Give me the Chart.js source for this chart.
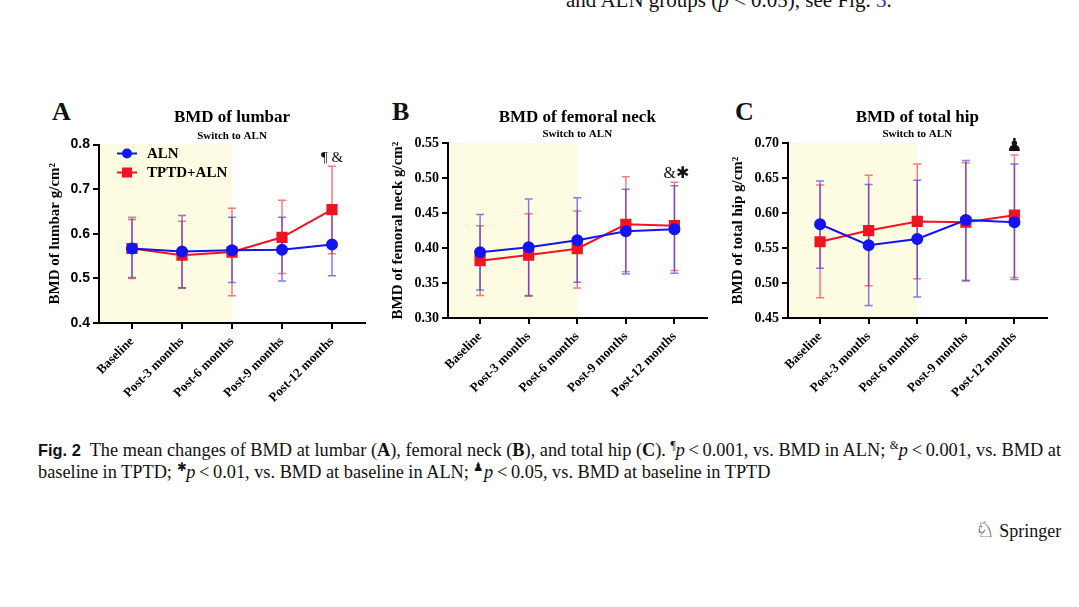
<!DOCTYPE html>
<html lang="en">
<head>
<meta charset="UTF-8" />
<title>Mean changes of BMD</title>
<script src="https://cdn.jsdelivr.net/npm/chart.js"></script>
<style>
  body { margin: 0; width: 1079px; height: 607px; background: #fff; position: relative; overflow: hidden;
         font-family: "Liberation Serif", "Times New Roman", serif; color: #111; }
  canvas.panel { position: absolute; }
  .letter { position: absolute; font: bold 26px/26px "Liberation Serif", serif; top: 99px; }
  #topline { position: absolute; left: 566px; top: -10px; font-size: 21px; line-height: 20px; white-space: nowrap; }
  .cap { position: absolute; left: 38px; font-size: 19px; line-height: 20px; white-space: nowrap; transform-origin: 0 0; }
  .fig { font-family: "Liberation Sans Narrow", "Liberation Sans", sans-serif; font-weight: bold; font-size: 17px; }
  sup { font-size: 12px; line-height: 0; }
  #springer { position: absolute; left: 975px; top: 519px; font-size: 18px; line-height: 22px; white-space: nowrap; }
  #springer .knight { font-family: "DejaVu Sans"; font-size: 22px; }
</style>
</head>
<body>
  <div id="topline">and ALN groups (<i>p</i> &lt; 0.05), see Fig. <span style="color:#2f2fc8">3</span>.</div>

  <div class="letter" style="left:52px">A</div>
  <div class="letter" style="left:392px">B</div>
  <div class="letter" style="left:735px">C</div>

  <canvas id="chartA" class="panel" width="345" height="330" style="left:30px;top:95px"></canvas>
  <canvas id="chartB" class="panel" width="345" height="330" style="left:370px;top:95px"></canvas>
  <canvas id="chartC" class="panel" width="345" height="330" style="left:710px;top:95px"></canvas>

  <div id="cap1" class="cap" style="top:440px"><span class="fig">Fig. 2</span>&nbsp; The mean changes of BMD at lumbar (<b>A</b>), femoral neck (<b>B</b>), and total hip (<b>C</b>). <sup>¶</sup><i>p</i>&thinsp;&lt;&thinsp;0.001, vs. BMD in ALN; <sup>&amp;</sup><i>p</i>&thinsp;&lt;&thinsp;0.001, vs. BMD at</div>
  <div id="cap2" class="cap" style="top:462px">baseline in TPTD; <sup>✱</sup><i>p</i>&thinsp;&lt;&thinsp;0.01, vs. BMD at baseline in ALN; <sup>♟</sup><i>p</i>&thinsp;&lt;&thinsp;0.05, vs. BMD at baseline in TPTD</div>

  <div id="springer"><span class="knight">♘</span> Springer</div>

<script>
const CATEGORIES = ['Baseline', 'Post-3 months', 'Post-6 months', 'Post-9 months', 'Post-12 months'];

// A - lumbar
const LUMBAR_TICKS = [0.4, 0.5, 0.6, 0.7, 0.8];
const LUMBAR_ALN = [0.567, 0.560, 0.563, 0.564, 0.576];
const LUMBAR_ALN_LO = [0.502, 0.479, 0.491, 0.494, 0.506];
const LUMBAR_ALN_HI = [0.632, 0.641, 0.637, 0.637, 0.647];
const LUMBAR_TPTD = [0.567, 0.552, 0.559, 0.592, 0.654];
const LUMBAR_TPTD_LO = [0.500, 0.478, 0.461, 0.511, 0.555];
const LUMBAR_TPTD_HI = [0.637, 0.628, 0.657, 0.675, 0.751];

// B - femoral neck
const NECK_TICKS = [0.30, 0.35, 0.40, 0.45, 0.50, 0.55];
const NECK_ALN = [0.394, 0.401, 0.411, 0.424, 0.427];
const NECK_ALN_LO = [0.340, 0.332, 0.351, 0.363, 0.364];
const NECK_ALN_HI = [0.448, 0.470, 0.472, 0.484, 0.489];
const NECK_TPTD = [0.382, 0.390, 0.399, 0.434, 0.432];
const NECK_TPTD_LO = [0.332, 0.331, 0.343, 0.366, 0.368];
const NECK_TPTD_HI = [0.432, 0.449, 0.453, 0.502, 0.494];

// C - total hip
const HIP_TICKS = [0.45, 0.50, 0.55, 0.60, 0.65, 0.70];
const HIP_ALN = [0.584, 0.554, 0.563, 0.590, 0.587];
const HIP_ALN_LO = [0.521, 0.468, 0.480, 0.503, 0.505];
const HIP_ALN_HI = [0.646, 0.641, 0.647, 0.675, 0.670];
const HIP_TPTD = [0.559, 0.575, 0.588, 0.587, 0.597];
const HIP_TPTD_LO = [0.479, 0.496, 0.506, 0.504, 0.508];
const HIP_TPTD_HI = [0.640, 0.654, 0.670, 0.672, 0.683];

const SWITCH_INDEX = 2; // shaded up to Post-6 months

const BLUE = '#1414f0';
const RED = '#f01420';
const ERR_BLUE = 'rgba(40, 40, 235, 0.6)';
const ERR_RED = 'rgba(240, 40, 40, 0.6)';
const SHADE = '#fdfbe1';

Chart.defaults.font.family = '"Liberation Serif", serif';
Chart.defaults.color = '#000';

function makePanel(p) {
  const decor = {
    id: 'decor',
    beforeDraw(chart) {
      const { ctx, chartArea: a, scales: { x } } = chart;
      ctx.save();
      ctx.fillStyle = SHADE;
      ctx.fillRect(a.left, a.top, x.getPixelForValue(SWITCH_INDEX) - a.left, a.bottom - a.top);
      ctx.restore();
    },
    beforeDatasetsDraw(chart) {
      const { ctx, scales: { x, y } } = chart;
      ctx.save();
      ctx.lineWidth = 1.5;
      [[p.tLo, p.tHi, ERR_RED], [p.aLo, p.aHi, ERR_BLUE]].forEach(([lo, hi, col]) => {
        ctx.strokeStyle = col;
        lo.forEach((l, i) => {
          const px = x.getPixelForValue(i);
          const y1 = y.getPixelForValue(l), y2 = y.getPixelForValue(hi[i]);
          ctx.beginPath();
          ctx.moveTo(px, y1); ctx.lineTo(px, y2);
          ctx.moveTo(px - 4, y1); ctx.lineTo(px + 4, y1);
          ctx.moveTo(px - 4, y2); ctx.lineTo(px + 4, y2);
          ctx.stroke();
        });
      });
      ctx.restore();
    },
    afterDraw(chart) {
      const { ctx, chartArea: a, scales: { x, y } } = chart;
      const last = CATEGORIES.length - 1;
      ctx.save();
      // significance mark above the last error bar
      const top = y.getPixelForValue(Math.max(p.aHi[last], p.tHi[last]));
      ctx.fillStyle = '#111';
      ctx.font = p.markFont;
      ctx.textAlign = 'center';
      ctx.textBaseline = 'alphabetic';
      ctx.fillText(p.mark, x.getPixelForValue(last) + p.markShift, top - 4);

      if (p.legend) {
        chart.data.datasets.forEach((ds, k) => {
          const ly = a.top + 9 + k * 19;
          ctx.strokeStyle = ds.borderColor;
          ctx.lineWidth = 2;
          ctx.beginPath();
          ctx.moveTo(a.left + 18, ly); ctx.lineTo(a.left + 38, ly);
          ctx.stroke();
          ctx.fillStyle = ds.borderColor;
          if (ds.pointStyle === 'rect') {
            ctx.fillRect(a.left + 23, ly - 5, 10, 10);
          } else {
            ctx.beginPath();
            ctx.arc(a.left + 28, ly, 5, 0, Math.PI * 2);
            ctx.fill();
          }
          ctx.fillStyle = '#000';
          ctx.font = 'bold 15px "Liberation Serif"';
          ctx.textAlign = 'left';
          ctx.textBaseline = 'middle';
          ctx.fillText(ds.label, a.left + 48, ly + 1);
        });
      }
      ctx.restore();
    }
  };

  const toPts = arr => arr.map((v, i) => ({ x: i, y: v }));

  new Chart(document.getElementById(p.id), {
    type: 'line',
    data: {
      datasets: [
        { label: 'ALN', data: toPts(p.aln), borderColor: BLUE, backgroundColor: BLUE,
          pointBackgroundColor: BLUE, pointBorderColor: BLUE, pointStyle: 'circle', pointRadius: 5,
          borderWidth: 2, tension: 0, order: 0 },
        { label: 'TPTD+ALN', data: toPts(p.tptd), borderColor: RED, backgroundColor: RED,
          pointBackgroundColor: RED, pointBorderColor: RED, pointStyle: 'rect', pointRadius: 6.5,
          borderWidth: 2, tension: 0, order: 1 }
      ]
    },
    options: {
      responsive: false,
      animation: false,
      devicePixelRatio: 1,
      layout: { padding: { left: 0, right: p.padRight, top: 0, bottom: 0 } },
      plugins: {
        legend: { display: false },
        tooltip: { enabled: false },
        title: {
          display: true, text: p.title, fullSize: false, color: '#000',
          font: { size: 17, weight: 'bold', lineHeight: 1.2 },
          padding: { top: 12, bottom: p.titleGap }
        },
        subtitle: {
          display: true, text: 'Switch to ALN', fullSize: false, color: '#000',
          font: { size: 11, weight: 'bold', lineHeight: 1.2 },
          padding: { top: 0, bottom: p.subGap }
        }
      },
      scales: {
        x: {
          type: 'linear',
          min: -0.66, max: 4.66,
          afterBuildTicks: s => { s.ticks = CATEGORIES.map((_, i) => ({ value: i })); },
          afterFit: s => { s.height = p.xHeight; },
          grid: { drawOnChartArea: false, drawTicks: true, tickLength: 6, color: '#000', lineWidth: 2 },
          border: { display: true, color: '#000', width: 2 },
          ticks: {
            autoSkip: false, maxRotation: 45, minRotation: 45, padding: 5, color: '#000',
            font: { size: 13, weight: 'bold' },
            callback: v => CATEGORIES[v]
          }
        },
        y: {
          min: p.ticks[0], max: p.ticks[p.ticks.length - 1],
          afterBuildTicks: s => { s.ticks = p.ticks.map(v => ({ value: v })); },
          afterFit: s => { s.width = p.yWidth; },
          grid: { drawOnChartArea: false, drawTicks: true, tickLength: 6, color: '#000', lineWidth: 2 },
          border: { display: true, color: '#000', width: 2 },
          ticks: {
            padding: 3, color: '#000', font: p.tickFont,
            callback: v => v.toFixed(p.decimals)
          },
          title: {
            display: true, text: p.yTitle, color: '#000',
            font: { size: 15, weight: 'bold', lineHeight: 1.2 },
            padding: { top: p.yTitlePad, bottom: 0 }
          }
        }
      }
    },
    plugins: [decor]
  });
}

makePanel({
  id: 'chartA', title: 'BMD of lumbar', yTitle: 'BMD of lumbar g/cm²',
  ticks: LUMBAR_TICKS, decimals: 1,
  aln: LUMBAR_ALN, aLo: LUMBAR_ALN_LO, aHi: LUMBAR_ALN_HI,
  tptd: LUMBAR_TPTD, tLo: LUMBAR_TPTD_LO, tHi: LUMBAR_TPTD_HI,
  tickFont: { family: '"Liberation Sans", sans-serif', size: 14, weight: 'bold' },
  yWidth: 69, xHeight: 102, padRight: 10, titleGap: 2.5, subGap: 1.4, yTitlePad: 16,
  mark: '¶ &', markFont: '15px "Liberation Serif"', markShift: 0, legend: true
});

makePanel({
  id: 'chartB', title: 'BMD of femoral neck', yTitle: 'BMD of femoral neck g/cm²',
  ticks: NECK_TICKS, decimals: 2,
  aln: NECK_ALN, aLo: NECK_ALN_LO, aHi: NECK_ALN_HI,
  tptd: NECK_TPTD, tLo: NECK_TPTD_LO, tHi: NECK_TPTD_HI,
  tickFont: { family: '"Liberation Serif", serif', size: 14, weight: 'bold' },
  yWidth: 78, xHeight: 107, padRight: 7, titleGap: 0, subGap: 2.5, yTitlePad: 19,
  mark: '&✱', markFont: '16px "Liberation Serif", "DejaVu Sans"', markShift: 2, legend: false
});

makePanel({
  id: 'chartC', title: 'BMD of total hip', yTitle: 'BMD of total hip g/cm²',
  ticks: HIP_TICKS, decimals: 2,
  aln: HIP_ALN, aLo: HIP_ALN_LO, aHi: HIP_ALN_HI,
  tptd: HIP_TPTD, tLo: HIP_TPTD_LO, tHi: HIP_TPTD_HI,
  tickFont: { family: '"Liberation Serif", serif', size: 14, weight: 'bold' },
  yWidth: 78, xHeight: 107, padRight: 6, titleGap: 0, subGap: 2.5, yTitlePad: 19,
  mark: '♟', markFont: '18px "DejaVu Sans"', markShift: 0, legend: false
});

// squeeze the caption lines to the column width, like the typeset page
const cap1 = document.getElementById('cap1');
const cap2 = document.getElementById('cap2');
const k = 1023 / cap1.getBoundingClientRect().width;
cap1.style.transform = `scaleX(${k})`;
cap2.style.transform = `scaleX(${k})`;
</script>
</body>
</html>
